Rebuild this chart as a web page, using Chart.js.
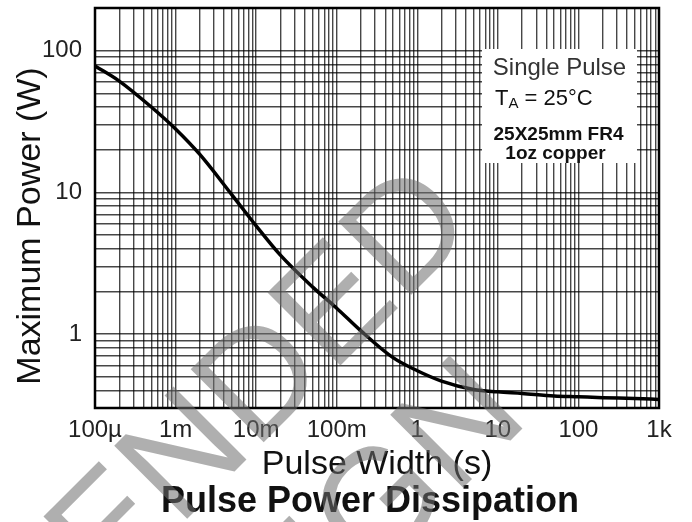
<!DOCTYPE html>
<html>
<head>
<meta charset="utf-8">
<script src="https://cdn.jsdelivr.net/npm/chart.js"></script>
<style>
  html, body { margin: 0; padding: 0; background: #fff; }
  canvas { display: block; }
</style>
</head>
<body>
<canvas id="myChart" width="692" height="522"></canvas>
<script>
// single pulse, TA = 25C, 25x25mm FR4 board
const pulseWidth = [1e-4, 2e-4, 5e-4, 1e-3, 2e-3, 5e-3, 1e-2, 2e-2, 5e-2, 0.1, 0.2, 0.5, 1, 2, 5, 10, 20, 50, 100, 200, 500, 1000];
const maxPower = [78, 61, 40, 28, 18.5, 9.6, 5.8, 3.6, 2.15, 1.52, 1.05, 0.68, 0.55, 0.465, 0.405, 0.39, 0.38, 0.365, 0.36, 0.355, 0.35, 0.345];

const xLabelValues = [1e-4, 1e-3, 1e-2, 0.1, 1, 10, 100, 1000];
const xLabelText = ['100µ', '1m', '10m', '100m', '1', '10', '100', '1k'];
const yLabelValues = [1, 10, 100];
const yLabelText = ['1', '10', '100'];

const X_MIN = 1e-4, X_MAX = 1000;
const Y_MIN = 0.3, Y_MAX = 200;

const FONT = '"Liberation Sans", Arial, Helvetica, sans-serif';

// 1..9 x 10^n grid values between lo and hi
function logGrid(lo, hi) {
  const out = [];
  for (let e = Math.floor(Math.log10(lo)); e <= Math.ceil(Math.log10(hi)); e++) {
    for (let m = 1; m <= 9; m++) {
      const v = m * Math.pow(10, e);
      if (v >= lo * 0.9999 && v <= hi * 1.0001) out.push(v);
    }
  }
  return out;
}

function labelFor(value, values, texts) {
  for (let i = 0; i < values.length; i++) {
    if (Math.abs(Math.log10(value) - Math.log10(values[i])) < 1e-6) return texts[i];
  }
  return '';
}

const decor = {
  id: 'decor',
  beforeDraw(chart) {
    const ctx = chart.ctx;
    ctx.save();
    ctx.fillStyle = '#fff';
    ctx.fillRect(0, 0, chart.width, chart.height);
    ctx.restore();
  },
  afterDatasetsDraw(chart) {
    const { ctx, chartArea: a } = chart;
    ctx.save();

    // note box, top right
    const bx = a.right - 177, by = a.top + 41, bw = 155, bh = 114;
    ctx.fillStyle = '#fff';
    ctx.fillRect(bx, by, bw, bh);

    const cx = bx + bw / 2;
    ctx.textAlign = 'center';
    ctx.textBaseline = 'alphabetic';
    ctx.fillStyle = '#333';
    ctx.font = '24px ' + FONT;
    ctx.fillText('Single Pulse', cx, by + 26);

    // T with subscript A
    ctx.fillStyle = '#111';
    ctx.textAlign = 'left';
    let tx = bx + 13;
    ctx.font = '22px ' + FONT;
    ctx.fillText('T', tx, by + 56);
    tx += ctx.measureText('T').width;
    ctx.font = '15px ' + FONT;
    ctx.fillText('A', tx, by + 59);
    tx += ctx.measureText('A').width;
    ctx.font = '22px ' + FONT;
    ctx.fillText(' = 25°C', tx, by + 56);

    ctx.textAlign = 'center';
    ctx.font = 'bold 19px ' + FONT;
    ctx.fillText('25X25mm FR4', cx - 1, by + 91);
    ctx.fillText('1oz copper', cx - 4, by + 110);

    // plot frame
    ctx.strokeStyle = '#000';
    ctx.lineWidth = 2.5;
    ctx.strokeRect(a.left, a.top, a.right - a.left, a.bottom - a.top);
    ctx.restore();
  },
  afterDraw(chart) {
    const { ctx, chartArea: a } = chart;
    ctx.save();
    ctx.fillStyle = '#111';
    ctx.textBaseline = 'alphabetic';
    ctx.textAlign = 'center';

    // axis titles
    ctx.font = '34px ' + FONT;
    ctx.fillText('Pulse Width (s)', (a.left + a.right) / 2, 474);

    ctx.save();
    ctx.translate(40, 226);
    ctx.rotate(-Math.PI / 2);
    ctx.font = '34px ' + FONT;
    ctx.fillText('Maximum Power (W)', 0, 0);
    ctx.restore();

    ctx.font = 'bold 36px ' + FONT;
    ctx.fillText('Pulse Power Dissipation', 370, 512);

    // diagonal status stamp
    ctx.font = '150px ' + FONT;
    ctx.fillStyle = 'rgba(110,110,110,0.55)';
    ctx.textAlign = 'right';
    const stamp = [['NOT RECOMMENDED', 479, 227], ['FOR NEW DESIGN', 531, 420]];
    stamp.forEach(([txt, x, y]) => {
      ctx.save();
      ctx.translate(x, y);
      ctx.rotate(-Math.PI / 4);
      ctx.fillText(txt, 0, 0);
      ctx.restore();
    });
    ctx.restore();
  }
};

const gridStyle = {
  color: 'rgba(0,0,0,0.72)',
  lineWidth: 1.4,
  drawTicks: false
};

const config = {
  type: 'line',
  data: {
    datasets: [{
      data: pulseWidth.map((w, i) => ({ x: w, y: maxPower[i] })),
      borderColor: '#000',
      borderWidth: 3.5,
      pointRadius: 0,
      fill: false,
      cubicInterpolationMode: 'monotone'
    }]
  },
  options: {
    responsive: false,
    animation: false,
    layout: { padding: { top: 8, right: 33, left: 0, bottom: 0 } },
    plugins: {
      legend: { display: false },
      tooltip: { enabled: false }
    },
    scales: {
      x: {
        type: 'logarithmic',
        min: X_MIN,
        max: X_MAX,
        grid: gridStyle,
        border: { display: false },
        afterBuildTicks(axis) {
          axis.ticks = logGrid(X_MIN, X_MAX).map(v => ({ value: v }));
        },
        afterFit(axis) {
          axis.height = 522 - 408;
          axis.paddingLeft = 0;
          axis.paddingRight = 0;
        },
        ticks: {
          autoSkip: false,
          maxRotation: 0,
          padding: 8,
          color: '#222',
          font: { family: FONT, size: 24 },
          callback: (v) => labelFor(v, xLabelValues, xLabelText)
        }
      },
      y: {
        type: 'logarithmic',
        min: Y_MIN,
        max: Y_MAX,
        grid: gridStyle,
        border: { display: false },
        afterBuildTicks(axis) {
          axis.ticks = logGrid(Y_MIN, Y_MAX).map(v => ({ value: v }));
        },
        afterFit(axis) {
          axis.width = 95;
          axis.paddingTop = 0;
          axis.paddingBottom = 0;
        },
        ticks: {
          autoSkip: false,
          padding: 13,
          color: '#222',
          font: { family: FONT, size: 24 },
          callback: (v) => labelFor(v, yLabelValues, yLabelText)
        }
      }
    }
  },
  plugins: [decor]
};

const myChart = new Chart(document.getElementById('myChart'), config);
</script>
</body>
</html>
